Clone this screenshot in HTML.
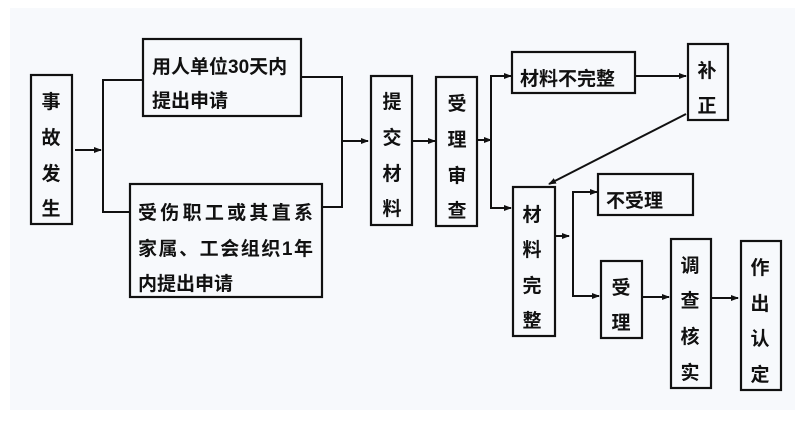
<!DOCTYPE html>
<html><head><meta charset="utf-8"><style>
body{margin:0;background:#fff;width:800px;height:437px;overflow:hidden}
svg text{font-family:"Liberation Sans","Noto Sans CJK SC",sans-serif;font-weight:bold;font-size:19px;fill:#111}
</style></head><body>
<svg width="800" height="437" xmlns="http://www.w3.org/2000/svg">
<defs><marker id="a" markerWidth="8" markerHeight="8" refX="7" refY="4" orient="auto" markerUnits="userSpaceOnUse"><path d="M0,1 L8,4 L0,7 z" fill="#111"/></marker></defs>
<rect x="10" y="8" width="785" height="402" fill="#f7f9fc"/>
<g fill="none" stroke="#111" stroke-width="2.2">
<rect x="31" y="75" width="41" height="149"/>
<rect x="143" y="39" width="158" height="77"/>
<rect x="130" y="184" width="192" height="113"/>
<rect x="371" y="76" width="41" height="149"/>
<rect x="436" y="77" width="41" height="149"/>
<rect x="512" y="52" width="123" height="41"/>
<rect x="688" y="44" width="40" height="76"/>
<rect x="513" y="187" width="42" height="149"/>
<rect x="598" y="174" width="95" height="41"/>
<rect x="601" y="261" width="41" height="77"/>
<rect x="671" y="239" width="40" height="149"/>
<rect x="741" y="241" width="40" height="149"/>
</g>
<g fill="none" stroke="#111" stroke-width="2">
<path d="M75,150 L101,150" marker-end="url(#a)"/>
<path d="M143,80 L103,80 L103,212 L130,212"/>
<path d="M301,77 L342,77 L342,207 L322,207"/>
<path d="M342,141 L368,141" marker-end="url(#a)"/>
<path d="M412,141 L435,141" marker-end="url(#a)"/>
<path d="M477,140 L491,140" marker-end="url(#a)"/>
<path d="M511,76 L491,76 L491,208 L511,208" />
<path d="M495,76 L511,76" marker-end="url(#a)"/>
<path d="M495,208 L511,208" marker-end="url(#a)"/>
<path d="M635,76 L686,76" marker-end="url(#a)"/>
<path d="M686,114 L549,184" marker-end="url(#a)"/>
<path d="M555,236 L569,236" marker-end="url(#a)"/>
<path d="M597,192 L573,192 L573,296 L599,296"/>
<path d="M580,192 L597,192" marker-end="url(#a)"/>
<path d="M580,296 L599,296" marker-end="url(#a)"/>
<path d="M643,297 L669,297" marker-end="url(#a)"/>
<path d="M711,298 L738,298" marker-end="url(#a)"/>
</g>
<g text-anchor="middle">
<text x="51" y="108">事</text><text x="51" y="144">故</text><text x="51" y="180">发</text><text x="51" y="215">生</text>
<text x="392" y="108">提</text><text x="392" y="144">交</text><text x="392" y="180">材</text><text x="392" y="215">料</text>
<text x="457" y="110">受</text><text x="457" y="146">理</text><text x="457" y="182">审</text><text x="457" y="217">查</text>
<text x="707" y="77">补</text><text x="707" y="112">正</text>
<text x="532" y="221">材</text><text x="532" y="256">料</text><text x="532" y="292">完</text><text x="532" y="327">整</text>
<text x="621" y="294">受</text><text x="621" y="329">理</text>
<text x="690" y="272">调</text><text x="690" y="307">查</text><text x="690" y="343">核</text><text x="690" y="379">实</text>
<text x="760" y="274">作</text><text x="760" y="310">出</text><text x="760" y="345">认</text><text x="760" y="381">定</text>
</g>
<text x="152" y="73">用人单位30天内</text>
<text x="152" y="107">提出申请</text>
<text x="138" y="219" textLength="175">受伤职工或其直系</text>
<text x="138" y="255" textLength="175">家属、工会组织1年</text>
<text x="138" y="290">内提出申请</text>
<text x="520" y="85">材料不完整</text>
<text x="606" y="207">不受理</text>
</svg>
</body></html>
